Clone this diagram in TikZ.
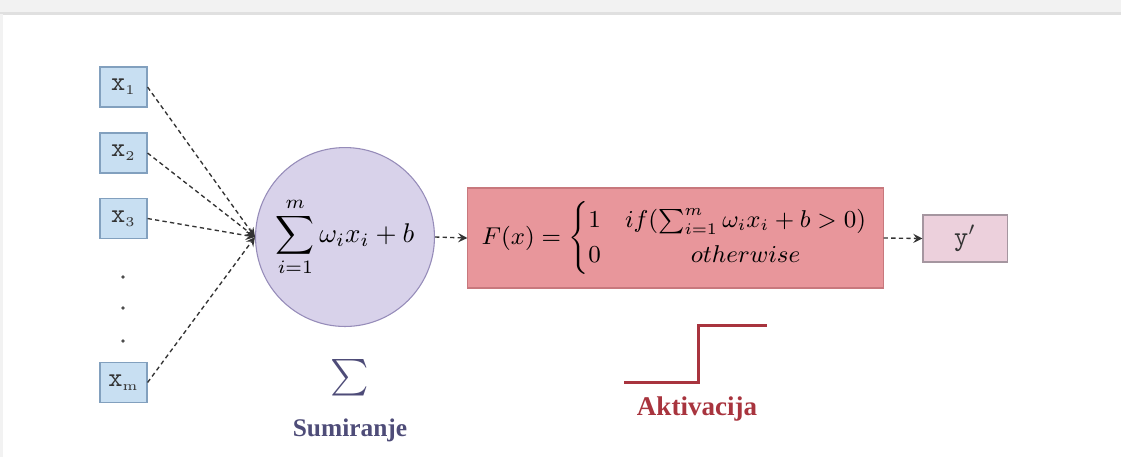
\documentclass[tikz,border=0pt]{standalone}
\usepackage{amsmath}
\usepackage{fontspec}
\newfontfamily\labelfont{Liberation Serif}
\usepackage{tikz}
\usetikzlibrary{shapes,arrows}

\definecolor{inblue}{RGB}{200,223,242}
\definecolor{inborder}{RGB}{130,160,190}
\definecolor{sumfill}{RGB}{216,210,234}
\definecolor{sumborder}{RGB}{150,140,185}
\definecolor{actfill}{RGB}{232,150,155}
\definecolor{actborder}{RGB}{200,120,125}
\definecolor{outfill}{RGB}{236,208,220}
\definecolor{outborder}{RGB}{165,150,160}
\definecolor{stepred}{RGB}{168,52,62}
\definecolor{sumtext}{RGB}{78,76,120}

\begin{document}
\begin{tikzpicture}[x=0.37pt,y=-0.37pt,
    inbox/.style={rectangle,draw=inborder,fill=inblue,minimum width=17.4pt,minimum height=14.8pt,inner sep=0pt,text=black!80},
    conn/.style={->,>=stealth,dashed,dash pattern=on 1.6pt off 1.2pt,black!80,line width=0.5pt},
    dot/.style={circle,fill=black!70,inner sep=0pt,minimum size=1.4pt}]
    % frame of the screenshot
    \useasboundingbox (0,0) rectangle (1121,457);
    \fill[black!5] (0,0) rectangle (1121,13);
    \draw[black!12,line width=0.8pt] (0,13.5) -- (1121,13.5);
    \fill[black!5] (0,14) rectangle (3,457);

    \node[inbox] (in1) at (123.5,87) {\texttt{x}$_{\text{\tiny 1}}$};
    \node[inbox] (in2) at (123.5,153) {\texttt{x}$_{\text{\tiny 2}}$};
    \node[inbox] (in3) at (123.5,218.5) {\texttt{x}$_{\text{\tiny 3}}$};
    \node[inbox] (inm) at (123.5,382.5) {\texttt{x}$_{\text{\tiny m}}$};
    \node[dot] (d1) at (123,277) {};
    \node[dot] (d2) at (123,308) {};
    \node[dot] (d3) at (123,341) {};

    \node[circle,draw=sumborder,fill=sumfill,minimum size=66.2pt,inner sep=0pt] (sum) at (345,237)
        {$\displaystyle\sum_{i=1}^{m}\omega_i x_i+b$};
    \node[rectangle,draw=actborder,fill=actfill,minimum width=153.6pt,minimum height=37pt,font=\small] (act) at (675.5,238)
        {$F(x)=\begin{cases}1 & if(\sum_{i=1}^{m}\omega_i x_i+b>0)\\ 0 & \hfil otherwise\end{cases}$};
    \node[rectangle,draw=outborder,fill=outfill,minimum width=31.1pt,minimum height=17.4pt,text=black!80] (out) at (965,238.5) {\texttt{y}$'$};

    \node[text=sumtext,scale=1.35] (sigma) at (350,378) {$\sum$};
    \node[text=sumtext,font=\labelfont\bfseries\fontsize{9.4}{11}\selectfont] (sumlbl) at (350,430) {Sumiranje};
    \node[text=stepred,font=\labelfont\bfseries\fontsize{10}{12}\selectfont] (actlbl) at (697,409) {Aktivacija};
    \draw[stepred,line width=1.1pt] (624,382) -- (698,382) -- (698,325) -- (767,325);

    \draw[conn] (in1.east) -- (sum.west);
    \draw[conn] (in2.east) -- (sum.west);
    \draw[conn] (in3.east) -- (sum.west);
    \draw[conn] (inm.east) -- (sum.west);
    \draw[conn] (sum.east) -- (act.west);
    \draw[conn] (act.east) -- (out.west);
\end{tikzpicture}
\end{document}
